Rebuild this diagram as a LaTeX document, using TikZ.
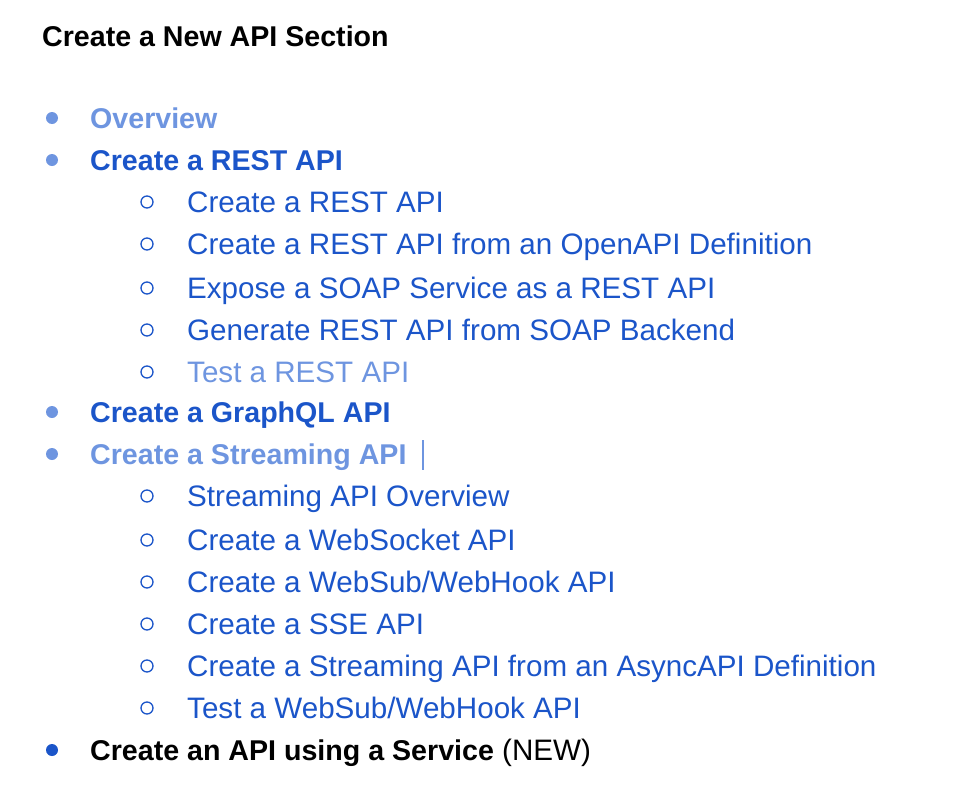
\documentclass[tikz,border=0pt]{standalone}
\usepackage{fontspec}
\setmainfont{Liberation Sans}
\definecolor{lb}{HTML}{6E95E0}
\definecolor{db}{HTML}{1B55C9}
\begin{document}
\begin{tikzpicture}[x=1pt,y=-1pt,
  t/.style={anchor=base west,inner sep=0pt,font=\fontsize{29.6}{31}\selectfont},
  tb/.style={anchor=base west,inner sep=0pt,font=\fontsize{28.6}{30}\selectfont\bfseries},
  dot/.style={circle,fill=#1,minimum size=12pt,inner sep=0pt},
  ring/.style={circle,draw=db,line width=1.3pt,minimum size=12pt,inner sep=0pt}]
\useasboundingbox (0,0) rectangle (964,806);
\node[tb] (title) at (42,46) {Create a New API Section};
\node[dot=lb] (b1) at (52,118) {}; \node[tb,text=lb] (m1) at (90,128) {Overview};
\node[dot=lb] (b2) at (52,160) {}; \node[tb,text=db] (m2) at (90,170) {Create a REST API};
\foreach \y/\s/\c [count=\i] in {212/Create a REST API/db,254/Create a REST API from an OpenAPI Definition/db,298/Expose a SOAP Service as a REST API/db,340/Generate REST API from SOAP Backend/db,382/Test a REST API/lb}{
  \node[ring] (r\i) at (147,\y-10) {}; \node[t,text=\c] (s\i) at (187,\y) {\s};}
\node[dot=lb] (b3) at (52,412) {}; \node[tb,text=db] (m3) at (90,422) {Create a GraphQL API};
\node[dot=lb] (b4) at (52,454) {}; \node[tb,text=lb] (m4) at (90,464) {Create a Streaming API};
\draw[lb,line width=1.5pt] (423,440) -- (423,470);
\foreach \y/\s [count=\i] in {506/{Streaming API Overview},550/{Create a WebSocket API},592/{Create a WebSub/WebHook API},634/{Create a SSE API},676/{Create a Streaming API from an AsyncAPI Definition},718/{Test a WebSub/WebHook API}}{
  \node[ring] (q\i) at (147,\y-10) {}; \node[t,text=db] (u\i) at (187,\y) {\s};}
\node[dot=db] (b5) at (52,750) {}; \node[t] (m5) at (90,760) {\textbf{\fontsize{28.6}{30}\selectfont Create an API using a Service} (NEW)};
\end{tikzpicture}
\end{document}
